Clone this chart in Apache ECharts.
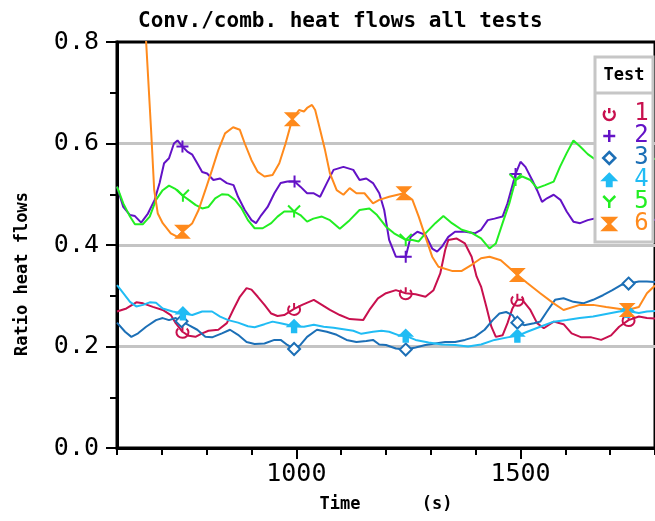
<!DOCTYPE html>
<html>
<head>
<meta charset="utf-8">
<script src="https://cdn.jsdelivr.net/npm/echarts@6/dist/echarts.min.js"></script>
<style>html,body{margin:0;padding:0;background:#fff}#c{width:655px;height:521px}</style>
</head>
<body>
<div id="c"></div>
<script>
// ---- data (time s, ratio) ----
const testNames = ['1', '2', '3', '4', '5', '6'];
const testColors = ['#c8104e', '#6312c6', '#1c6fb6', '#20bcf4', '#22ee22', '#ff8a1c'];
const xTickLabels = [1000, 1500];

const test1 = [[600,0.269],[621,0.275],[643,0.287],[658,0.285],[680,0.278],[702,0.272],[720,0.262],[731,0.246],[746,0.229],[760,0.221],[775,0.219],[790,0.226],[804,0.231],[826,0.233],[845,0.246],[859,0.272],[874,0.298],[889,0.315],[900,0.312],[914,0.298],[929,0.282],[944,0.265],[958,0.26],[973,0.262],[995,0.274],[1013,0.282],[1039,0.292],[1057,0.282],[1075,0.272],[1097,0.262],[1119,0.254],[1149,0.252],[1163,0.272],[1182,0.295],[1200,0.305],[1222,0.311],[1244,0.305],[1266,0.303],[1288,0.298],[1306,0.311],[1321,0.344],[1332,0.39],[1339,0.41],[1357,0.413],[1376,0.403],[1391,0.377],[1402,0.338],[1412,0.318],[1424,0.278],[1435,0.239],[1445,0.219],[1460,0.222],[1471,0.246],[1482,0.275],[1493,0.292],[1504,0.292],[1522,0.272],[1537,0.246],[1552,0.236],[1574,0.249],[1596,0.244],[1614,0.226],[1636,0.218],[1658,0.218],[1680,0.213],[1702,0.222],[1720,0.239],[1741,0.252],[1764,0.259],[1782,0.256],[1800,0.255]];
const test2 = [[600,0.515],[614,0.475],[629,0.459],[640,0.457],[654,0.444],[669,0.462],[684,0.489],[695,0.522],[705,0.561],[716,0.571],[727,0.6],[735,0.606],[746,0.594],[757,0.584],[768,0.578],[779,0.561],[790,0.544],[801,0.541],[815,0.528],[830,0.531],[845,0.522],[860,0.518],[870,0.495],[885,0.469],[900,0.449],[910,0.443],[922,0.459],[936,0.475],[951,0.502],[965,0.522],[980,0.525],[996,0.525],[1009,0.515],[1024,0.502],[1038,0.502],[1053,0.495],[1068,0.522],[1083,0.548],[1105,0.554],[1127,0.548],[1141,0.528],[1156,0.531],[1171,0.522],[1185,0.502],[1196,0.469],[1207,0.41],[1222,0.377],[1244,0.377],[1255,0.416],[1270,0.426],[1288,0.42],[1303,0.393],[1314,0.387],[1325,0.397],[1339,0.416],[1354,0.426],[1376,0.426],[1398,0.423],[1412,0.43],[1427,0.449],[1442,0.452],[1460,0.456],[1471,0.482],[1489,0.54],[1500,0.564],[1511,0.554],[1526,0.528],[1537,0.508],[1548,0.485],[1559,0.492],[1574,0.499],[1589,0.489],[1603,0.466],[1618,0.446],[1633,0.443],[1650,0.449],[1680,0.455],[1720,0.45],[1741,0.446],[1760,0.445],[1800,0.45]];
const test3 = [[600,0.247],[618,0.229],[632,0.219],[647,0.226],[665,0.239],[687,0.252],[702,0.256],[716,0.252],[731,0.256],[744,0.25],[760,0.242],[779,0.233],[797,0.219],[812,0.218],[834,0.226],[852,0.233],[870,0.223],[889,0.209],[907,0.205],[929,0.206],[951,0.213],[965,0.213],[980,0.203],[995,0.195],[1009,0.203],[1024,0.219],[1046,0.233],[1068,0.229],[1090,0.223],[1112,0.213],[1134,0.209],[1156,0.211],[1171,0.213],[1185,0.204],[1200,0.203],[1222,0.196],[1244,0.194],[1266,0.198],[1288,0.203],[1310,0.206],[1332,0.209],[1354,0.209],[1376,0.213],[1398,0.219],[1420,0.233],[1438,0.252],[1453,0.265],[1468,0.268],[1482,0.262],[1493,0.247],[1508,0.242],[1530,0.246],[1544,0.249],[1559,0.269],[1577,0.292],[1596,0.295],[1618,0.288],[1640,0.285],[1662,0.292],[1684,0.301],[1705,0.311],[1724,0.321],[1741,0.324],[1764,0.328],[1782,0.328],[1800,0.327]];
const test4 = [[600,0.321],[614,0.305],[629,0.288],[643,0.279],[658,0.282],[673,0.287],[687,0.286],[702,0.275],[724,0.269],[747,0.265],[768,0.262],[790,0.269],[812,0.269],[830,0.259],[848,0.252],[870,0.247],[892,0.24],[907,0.238],[929,0.244],[947,0.249],[965,0.246],[995,0.24],[1017,0.239],[1039,0.243],[1061,0.239],[1083,0.237],[1105,0.234],[1127,0.231],[1145,0.225],[1171,0.229],[1190,0.231],[1207,0.229],[1229,0.222],[1244,0.221],[1266,0.213],[1295,0.208],[1325,0.204],[1354,0.203],[1383,0.2],[1412,0.204],[1442,0.213],[1471,0.218],[1493,0.221],[1515,0.229],[1544,0.239],[1574,0.249],[1603,0.252],[1632,0.256],[1662,0.259],[1691,0.264],[1720,0.269],[1738,0.27],[1764,0.266],[1782,0.269],[1800,0.27]];
const test5 = [[600,0.515],[614,0.482],[629,0.456],[640,0.441],[658,0.441],[673,0.456],[687,0.489],[702,0.508],[716,0.517],[731,0.51],[747,0.497],[760,0.489],[775,0.479],[790,0.472],[804,0.475],[819,0.492],[834,0.5],[848,0.499],[863,0.489],[878,0.472],[892,0.449],[907,0.433],[925,0.433],[944,0.443],[958,0.456],[973,0.466],[995,0.466],[1009,0.459],[1024,0.446],[1038,0.452],[1057,0.456],[1075,0.449],[1097,0.432],[1119,0.449],[1141,0.469],[1163,0.472],[1180,0.459],[1200,0.436],[1218,0.423],[1244,0.41],[1259,0.41],[1273,0.407],[1288,0.423],[1310,0.443],[1328,0.457],[1347,0.443],[1369,0.43],[1391,0.424],[1412,0.413],[1431,0.393],[1445,0.403],[1460,0.443],[1475,0.482],[1489,0.528],[1504,0.535],[1522,0.528],[1537,0.512],[1555,0.518],[1574,0.525],[1588,0.554],[1603,0.581],[1618,0.606],[1633,0.594],[1650,0.579],[1680,0.56],[1720,0.55],[1760,0.56],[1800,0.57]];
const test6 = [[660,0.88],[665,0.8],[676,0.627],[683,0.508],[691,0.462],[702,0.443],[720,0.423],[735,0.416],[746,0.426],[768,0.443],[782,0.469],[797,0.508],[812,0.548],[826,0.587],[841,0.62],[859,0.632],[874,0.627],[885,0.6],[900,0.567],[914,0.544],[929,0.535],[947,0.538],[962,0.561],[976,0.6],[991,0.648],[1006,0.666],[1017,0.663],[1024,0.67],[1035,0.676],[1042,0.666],[1053,0.627],[1064,0.587],[1075,0.541],[1090,0.508],[1105,0.499],[1119,0.512],[1134,0.502],[1152,0.502],[1171,0.482],[1185,0.489],[1207,0.495],[1240,0.502],[1259,0.489],[1273,0.456],[1288,0.416],[1303,0.377],[1317,0.357],[1347,0.349],[1369,0.349],[1391,0.361],[1412,0.374],[1431,0.377],[1456,0.37],[1475,0.355],[1493,0.341],[1515,0.325],[1544,0.305],[1574,0.285],[1596,0.272],[1632,0.282],[1662,0.282],[1691,0.278],[1738,0.272],[1764,0.278],[1782,0.305],[1800,0.32]];

// times at which a marker is drawn on each curve
const markers1 = [746, 995, 1244, 1493, 1741];
const markers2 = [746, 996, 1244, 1489, 1741];
const markers3 = [744, 995, 1244, 1493, 1741];
const markers4 = [747, 995, 1244, 1493, 1738];
const markers5 = [747, 995, 1244, 1489];
const markers6 = [746, 991, 1240, 1493, 1738];

const allData = [test1, test2, test3, test4, test5, test6];
const allMarkers = [markers1, markers2, markers3, markers4, markers5, markers6];

// ---- marker shapes ----
const symbols = [
  'path://M6,0 L6,5 M2.3,2.6 A5.2,5.2 0 1 0 9.7,2.6',
  'path://M0,6 L12,6 M6,0 L6,12',
  'path://M6,0 L12,6 L6,12 L0,6 Z',
  'path://M6,0 L12,6 L8.2,6 L8.2,12 L3.8,12 L3.8,6 L0,6 Z',
  'path://M0,0 L6,6 L12,0 M6,6 L6,12',
  'path://M0,0 L12,0 L0,12 L12,12 Z'
];
const symbolFill = ['none', 'none', '#ffffff', null, 'none', null];

const FONT = 'DejaVu Sans Mono';

const series = allData.map((d, i) => ({
  name: testNames[i],
  type: 'line',
  xAxisIndex: 0,
  yAxisIndex: 0,
  symbol: 'none',
  showSymbol: true,
  showAllSymbol: true,
  smooth: false,
  clip: true,
  z: 2,
  lineStyle: { color: testColors[i], width: 2 },
  itemStyle: { color: testColors[i] },
  emphasis: { disabled: true },
  data: d.map(p => allMarkers[i].indexOf(p[0]) >= 0 ? {
    value: p,
    symbol: symbols[i],
    symbolSize: 12,
    itemStyle: { color: symbolFill[i] || testColors[i], borderColor: testColors[i], borderWidth: 2 }
  } : { value: p })
}));

const chart = echarts.init(document.getElementById('c'), null, { renderer: 'canvas' });
chart.setOption({
  animation: false,
  backgroundColor: '#ffffff',
  title: {
    text: 'Conv./comb. heat flows all tests',
    left: 133, top: 6,
    textStyle: { fontFamily: FONT, fontSize: 21, fontWeight: 'bold', color: '#000' }
  },
  grid: { left: 117, top: 42, right: -7, bottom: 73, show: true, borderColor: '#000', borderWidth: 3, backgroundColor: 'transparent' },
  xAxis: [{
    type: 'value', min: 600, max: 1800, interval: 100, position: 'bottom',
    name: 'Time      (s)', nameLocation: 'middle', nameGap: 48,
    nameTextStyle: { fontFamily: FONT, fontSize: 17, fontWeight: 'bold', color: '#000' },
    axisLine: { onZero: false, lineStyle: { color: '#000', width: 3 } },
    axisTick: { customValues: xTickLabels, length: 11, lineStyle: { color: '#000', width: 2 } },
    axisLabel: { customValues: xTickLabels, margin: 14, fontFamily: FONT, fontSize: 25, color: '#000', formatter: v => String(v) },
    splitLine: { show: true, showMinLine: false, showMaxLine: false, lineStyle: { color: '#c4c4c4', width: 3 } }
  }, {
    type: 'value', min: 600, max: 1800, interval: 100, position: 'bottom', offset: 0,
    axisLine: { show: false },
    axisTick: { show: true, length: 7, lineStyle: { color: '#000', width: 2 } },
    axisLabel: { show: false },
    splitLine: { show: false }
  }],
  yAxis: {
    type: 'value', min: 0, max: 0.8, interval: 0.2,
    name: 'Ratio heat flows', nameLocation: 'middle', nameGap: 86, nameRotate: 90,
    nameTextStyle: { fontFamily: FONT, fontSize: 17, fontWeight: 'bold', color: '#000', padding: [0, 58, 0, 0] },
    axisLine: { onZero: false, lineStyle: { color: '#000', width: 3 } },
    axisTick: { length: 11, lineStyle: { color: '#000', width: 2 } },
    minorTick: { show: true, splitNumber: 2, length: 7, lineStyle: { color: '#000', width: 2 } },
    axisLabel: { margin: 18, fontFamily: FONT, fontSize: 25, color: '#000', formatter: v => v.toFixed(1) },
    splitLine: { show: true, showMinLine: false, showMaxLine: false, lineStyle: { color: '#c4c4c4', width: 3 } }
  },
  legend: {
    orient: 'vertical', left: 597, top: 97, itemWidth: 12, itemHeight: 12, itemGap: -2,
    selectedMode: false,
    textStyle: { fontFamily: FONT, fontSize: 24, lineHeight: 22, padding: [0, 0, 0, 14] },
    data: testNames.map((n, i) => ({
      name: n, icon: symbols[i],
      itemStyle: { color: symbolFill[i] === 'none' ? 'rgba(0,0,0,0)' : (symbolFill[i] || testColors[i]), borderColor: testColors[i], borderWidth: 2.5 },
      textStyle: { color: testColors[i] }
    }))
  },
  graphic: [
    { type: 'rect', z: 3, shape: { x: 595, y: 57, width: 58, height: 185 }, style: { fill: '#fff', stroke: '#c6c6c6', lineWidth: 3 } },
    { type: 'line', z: 3, shape: { x1: 595, y1: 93, x2: 653, y2: 93 }, style: { stroke: '#c6c6c6', lineWidth: 3 } },
    { type: 'text', z: 3, x: 624, y: 76, style: { text: 'Test', fontFamily: FONT, fontSize: 17, fontWeight: 'bold', fill: '#000', align: 'center', verticalAlign: 'middle' } }
  ],
  series: series
});
</script>
</body>
</html>
